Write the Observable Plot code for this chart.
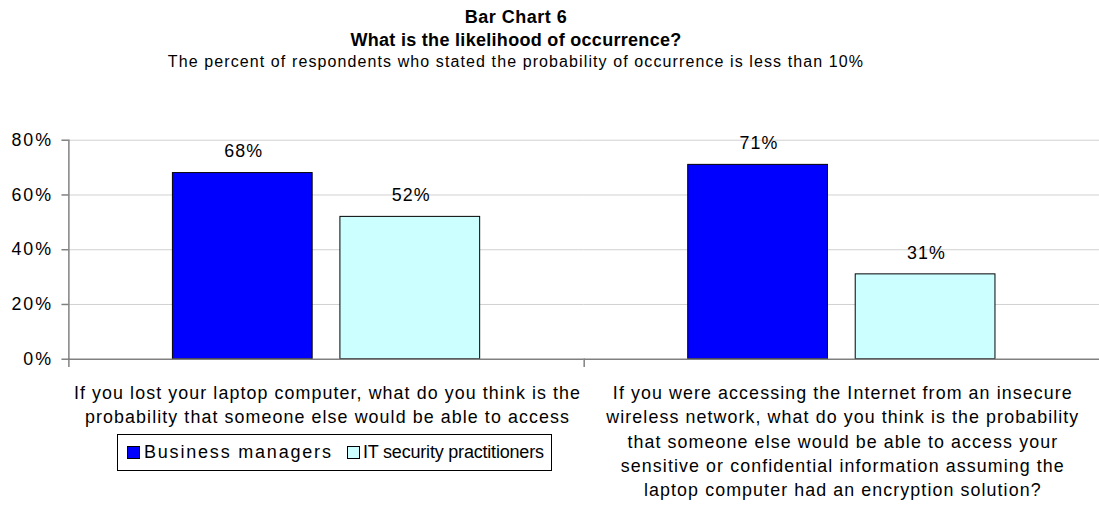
<!DOCTYPE html>
<html>
<head>
<meta charset="utf-8">
<script src="https://cdn.jsdelivr.net/npm/d3@7"></script>
<script src="https://cdn.jsdelivr.net/npm/@observablehq/plot@0.6"></script>
<style>
  html, body { margin: 0; padding: 0; background: #fff; overflow: hidden; }
  #wrap { position: relative; width: 1099px; height: 512px; overflow: hidden; font-family: "Liberation Sans", Arial, sans-serif; color: #000; }
  .t { position: absolute; left: 0; width: 1032px; text-align: center; white-space: nowrap; }
  #t1 { top: 7px; font-size: 18px; font-weight: bold; letter-spacing: 0.5px; }
  #t2 { top: 30px; font-size: 18px; font-weight: bold; letter-spacing: 0.3px; }
  #t3 { top: 53px; font-size: 16px; letter-spacing: 1.1px; }
  #chart { position: absolute; left: 0; top: 0; }
  #chart svg text { letter-spacing: 1.1px; }
  #chart g[aria-label="y-axis tick label"] text { letter-spacing: 2px; }
  #chart g[aria-label="value label"] text { letter-spacing: 2px; }
  #legend { position: absolute; left: 117px; top: 434px; width: 433px; height: 35px; border: 1px solid #000; background: #fff; font-size: 18px; white-space: nowrap; }
  #legend .sw { position: absolute; top: 11px; width: 11px; height: 11px; border: 1px solid #000; box-sizing: content-box; }
  #legend .lab { position: absolute; top: 7px; line-height: 20px; }
</style>
</head>
<body>
<div id="wrap">
  <div id="chart"></div>
  <div class="t" id="t1"></div>
  <div class="t" id="t2"></div>
  <div class="t" id="t3"></div>
  <div id="legend"></div>
</div>
<script>
const titleLines = ["Bar Chart 6", "What is the likelihood of occurrence?", "The percent of respondents who stated the probability of occurrence is less than 10%"];
const categories = [
  "If you lost your laptop computer, what do you think is the\nprobability that someone else would be able to access",
  "If you were accessing the Internet from an insecure\nwireless network, what do you think is the probability\nthat someone else would be able to access your\nsensitive or confidential information assuming the\nlaptop computer had an encryption solution?"
];
const series = ["Business managers", "IT security practitioners"];
const businessManagers = [68, 71];
const itSecurityPractitioners = [52, 31];
const yTicks = [0, 20, 40, 60, 80];
const colors = ["#0000FF", "#CCFFFF"];

document.getElementById("t1").textContent = titleLines[0];
document.getElementById("t2").textContent = titleLines[1];
document.getElementById("t3").textContent = titleLines[2];

const data = categories.flatMap((c, i) => [
  {category: c, series: series[0], value: businessManagers[i]},
  {category: c, series: series[1], value: itSecurityPractitioners[i]}
]);

const chart = Plot.plot({
  width: 1109,
  height: 512,
  marginLeft: 69,
  marginRight: 0,
  marginTop: 141,
  marginBottom: 150,
  style: {fontFamily: "'Liberation Sans', Arial, sans-serif", fontSize: "18px", color: "#000", background: "transparent", overflow: "visible"},
  fx: {domain: categories, padding: 0, axis: null, round: false},
  x: {domain: series, paddingInner: 0.1657, paddingOuter: 0.621, axis: null, round: false},
  y: {domain: [0, 80], axis: null},
  color: {domain: series, range: colors},
  marks: [
    Plot.gridY(yTicks.slice(1), {stroke: "#d0d0d0", strokeOpacity: 1}),
    Plot.barY(data, {fx: "category", x: "series", y: "value", fill: "series", stroke: "#000", strokeWidth: 1}),
    Plot.text(data, {fx: "category", x: "series", y: "value", text: d => d.value + "%", lineAnchor: "bottom", dy: -16, dx: 1, fontSize: 18, fill: "#000", ariaLabel: "value label"}),
    Plot.ruleY([0], {stroke: "#808080", strokeWidth: 1.5}),
    Plot.frame({anchor: "left", stroke: "#808080", strokeWidth: 1.5, insetTop: 221, insetBottom: -7}),
    Plot.frame({anchor: "left", stroke: "#808080", strokeWidth: 1.5, facetAnchor: "left"}),
    Plot.axisY(yTicks, {tickSize: 7, tickPadding: 9, label: null, tickFormat: d => d + "%", fontSize: 18, stroke: "#808080", color: "#000", strokeWidth: 1.5}),
    Plot.text(categories, {fx: d => d, text: d => d, frameAnchor: "bottom", lineAnchor: "top", dy: 23, dx: 1, lineHeight: 1.36, fontSize: 18, fill: "#000"})
  ]
});
document.getElementById("chart").appendChild(chart);

const legend = document.getElementById("legend");
const legendLayout = [{sw: 9, lab: 26, ls: "1.8px"}, {sw: 229, lab: 245, ls: "-0.2px"}];
series.forEach((s, i) => {
  const sw = document.createElement("span");
  sw.className = "sw";
  sw.style.background = colors[i];
  sw.style.left = legendLayout[i].sw + "px";
  legend.appendChild(sw);
  const lab = document.createElement("span");
  lab.className = "lab";
  lab.textContent = s;
  lab.style.left = legendLayout[i].lab + "px";
  lab.style.letterSpacing = legendLayout[i].ls;
  legend.appendChild(lab);
});
</script>
</body>
</html>
